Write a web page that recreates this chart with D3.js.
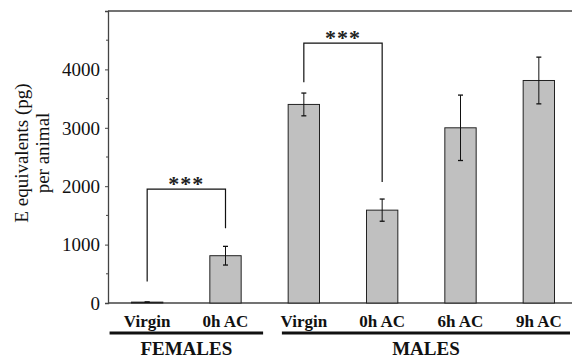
<!DOCTYPE html>
<html>
<head>
<style>
  body { margin: 0; background: #fff; }
</style>
</head>
<body>
<script src="https://d3js.org/d3.v7.min.js"></script>
<script>
// data
const categories = ["Virgin", "0h AC", "Virgin", "0h AC", "6h AC", "9h AC"]
const groups = ["FEMALES", "FEMALES", "MALES", "MALES", "MALES", "MALES"]
const means = [15, 810, 3400, 1590, 3000, 3810]
const errors = [0, 160, 195, 190, 560, 400]
const yTicks = [0, 1000, 2000, 3000, 4000]
const yMinorTicks = [500, 1500, 2500, 3500, 4500]
// significance brackets: bar indexes, leg ends and top (in data units)
const bracketFrom = [0, 2]
const bracketTo = [1, 3]
const bracketLeftEnd = [370, 3780]
const bracketRightEnd = [1280, 2070]
const bracketTop = [1950, 4450]
const bracketLabel = ["***", "***"]

const w = 572, h = 358
const plotLeft = 108, plotTop = 11, plotBottom = 303
const serif = "'Liberation Serif'"

const svg = d3.select("body").append("svg").attr("width", w).attr("height", h)

const x = d3.scaleBand()
  .domain(d3.range(categories.length))
  .range([plotLeft, 578])
  .paddingInner(0.6)
  .paddingOuter(0.3)
const y = d3.scaleLinear().domain([0, 5000]).range([plotBottom, plotTop])
const cx = i => x(i) + x.bandwidth() / 2

// frame lines
svg.append("line").attr("x1", plotLeft).attr("x2", w).attr("y1", plotTop).attr("y2", plotTop)
  .attr("stroke", "#444").attr("stroke-width", 1.3)
svg.append("line").attr("x1", plotLeft).attr("x2", w).attr("y1", plotBottom).attr("y2", plotBottom)
  .attr("stroke", "#444").attr("stroke-width", 1.3)

// y axis
const yAxis = d3.axisLeft(y).tickValues(yTicks).tickSize(3).tickPadding(5).tickFormat(d3.format("d"))
const gy = svg.append("g").attr("transform", "translate(" + plotLeft + ",0)").call(yAxis)
gy.select(".domain").attr("stroke", "#444").attr("stroke-width", 1.3)
gy.selectAll(".tick line").attr("stroke", "#444")
gy.selectAll("text").style("font-family", serif).style("font-size", "19px").attr("fill", "#111").attr("dy", "0.33em")
gy.selectAll(".minor").data(yMinorTicks).enter().append("line")
  .attr("x1", -2).attr("x2", 0).attr("y1", d => y(d)).attr("y2", d => y(d)).attr("stroke", "#444")

// y label
const ylab = svg.append("g").attr("transform", "translate(0,153) rotate(-90)")
ylab.append("text").attr("x", 0).attr("y", 28).attr("text-anchor", "middle")
  .style("font-family", serif).style("font-size", "19px").attr("fill", "#111").text("E equivalents (pg)")
ylab.append("text").attr("x", 0).attr("y", 49).attr("text-anchor", "middle")
  .style("font-family", serif).style("font-size", "19px").attr("fill", "#111").text("per animal")

// bars
svg.selectAll(".bar").data(means).enter().append("rect")
  .attr("x", (d, i) => x(i)).attr("width", x.bandwidth())
  .attr("y", d => y(d)).attr("height", d => plotBottom - y(d))
  .attr("fill", "#c0c0c0").attr("stroke", "#222").attr("stroke-width", 1)

// error bars
const eb = svg.selectAll(".err").data(means).enter().append("g")
eb.append("line").attr("x1", (d, i) => cx(i)).attr("x2", (d, i) => cx(i))
  .attr("y1", (d, i) => y(d - errors[i])).attr("y2", (d, i) => y(d + errors[i])).attr("stroke", "#111")
eb.append("line").attr("x1", (d, i) => cx(i) - 2.5).attr("x2", (d, i) => cx(i) + 2.5)
  .attr("y1", (d, i) => y(d + errors[i])).attr("y2", (d, i) => y(d + errors[i])).attr("stroke", "#111").attr("stroke-width", 1.3)
eb.append("line").attr("x1", (d, i) => cx(i) - 2.5).attr("x2", (d, i) => cx(i) + 2.5)
  .attr("y1", (d, i) => y(d - errors[i])).attr("y2", (d, i) => y(d - errors[i])).attr("stroke", "#111").attr("stroke-width", 1.3)

// significance brackets
bracketFrom.forEach((a, k) => {
  const b = bracketTo[k]
  const pts = [[cx(a), y(bracketLeftEnd[k])], [cx(a), y(bracketTop[k])], [cx(b), y(bracketTop[k])], [cx(b), y(bracketRightEnd[k])]]
  svg.append("path").attr("d", d3.line()(pts)).attr("fill", "none").attr("stroke", "#111").attr("stroke-width", 1.2)
  svg.append("text").attr("x", (cx(a) + cx(b)) / 2).attr("y", y(bracketTop[k]) + 2)
    .attr("text-anchor", "middle").style("font-family", serif).style("font-size", "22px")
    .style("font-weight", "bold").style("letter-spacing", "1px")
    .attr("fill", "#222").text(bracketLabel[k])
})

// category labels
svg.selectAll(".cat").data(categories).enter().append("text")
  .attr("x", (d, i) => cx(i)).attr("y", 327).attr("text-anchor", "middle")
  .style("font-family", serif).style("font-size", "17px").style("font-weight", "bold")
  .attr("fill", "#111").text(d => d)

// group lines and labels
const groupNames = Array.from(new Set(groups))
const groupPadL = [0.48, 0.28]
const groupPadR = [0.48, 0.4]
groupNames.forEach((g, k) => {
  const idx = d3.range(groups.length).filter(i => groups[i] === g)
  const x1 = cx(idx[0]) - groupPadL[k] * x.step()
  const x2 = Math.min(cx(idx[idx.length - 1]) + groupPadR[k] * x.step(), w - 2)
  svg.append("line").attr("x1", x1).attr("x2", x2).attr("y1", 333).attr("y2", 333)
    .attr("stroke", "#111").attr("stroke-width", 2.8)
  svg.append("text").attr("x", (x1 + x2) / 2).attr("y", 355).attr("text-anchor", "middle")
    .style("font-family", serif).style("font-size", "19px").style("font-weight", "bold")
    .attr("fill", "#111").text(g)
})
</script>
</body>
</html>
